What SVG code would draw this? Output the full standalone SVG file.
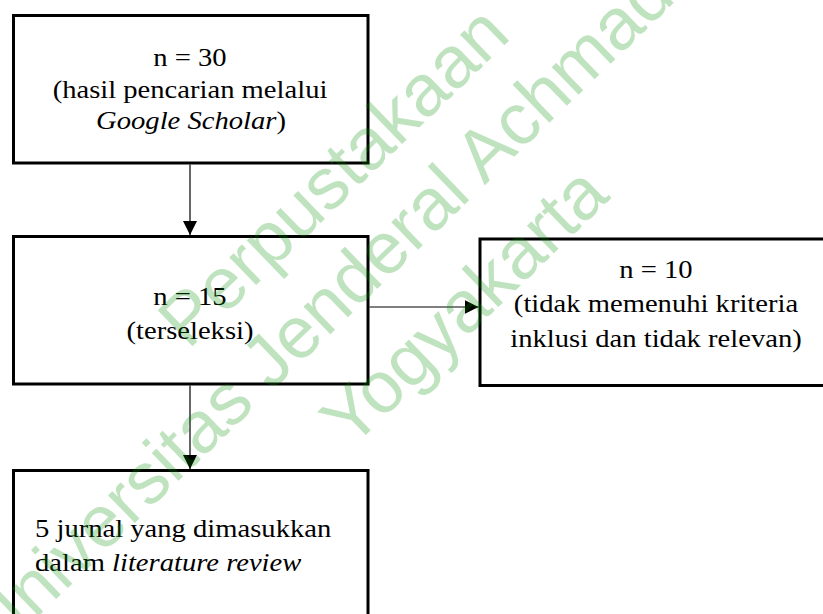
<svg xmlns="http://www.w3.org/2000/svg" width="823" height="614" viewBox="0 0 823 614">
  <style>
    .box { fill: #ffffff; stroke: #000000; stroke-width: 3; }
    .lbl { font-family: "Liberation Serif", "Times New Roman", serif; font-size: 26px; fill: #000000; }
    .c { text-anchor: middle; }
    .it { font-style: italic; }
    .conn { stroke: #000000; stroke-width: 1.2; fill: none; marker-end: url(#arrow); }
    .wm { font-family: "Liberation Sans", Arial, sans-serif; font-size: 73px; fill: #009000; fill-opacity: 0.25; }
  </style>
  <defs>
    <marker id="arrow" markerUnits="userSpaceOnUse" markerWidth="14" markerHeight="14" refX="14" refY="7" orient="auto">
      <path d="M0,0 L14,7 L0,14 Z" fill="#000000"/>
    </marker>
  </defs>
  <rect width="823" height="614" fill="#ffffff"/>

  <g id="node-search">
    <rect class="box" x="13.5" y="15.5" width="354.5" height="147.5"/>
    <text class="lbl c" transform="translate(190,0) scale(1.1,1)" x="0" y="66.5">n = 30</text>
    <text class="lbl c" transform="translate(190,0) scale(1.1,1)" x="0" y="98.5">(hasil pencarian melalui</text>
    <text class="lbl c" transform="translate(191,0) scale(1.1,1)" x="0" y="129.5"><tspan class="it">Google Scholar</tspan>)</text>
  </g>

  <g id="node-selected">
    <rect class="box" x="13.5" y="236.5" width="354.5" height="147.5"/>
    <text class="lbl c" transform="translate(190,0) scale(1.1,1)" x="0" y="305">n = 15</text>
    <text class="lbl c" transform="translate(190,0) scale(1.1,1)" x="0" y="339">(terseleksi)</text>
  </g>

  <g id="node-excluded">
    <rect class="box" x="480" y="239" width="353" height="146.5"/>
    <text class="lbl c" transform="translate(656,0) scale(1.1,1)" x="0" y="278">n = 10</text>
    <text class="lbl c" transform="translate(656,0) scale(1.1,1)" x="0" y="312">(tidak memenuhi kriteria</text>
    <text class="lbl c" transform="translate(656,0) scale(1.1,1)" x="0" y="347">inklusi dan tidak relevan)</text>
  </g>

  <g id="node-included">
    <rect class="box" x="13.5" y="470.5" width="354.5" height="160"/>
    <text class="lbl" transform="translate(35,0) scale(1.1,1)" x="0" y="537">5  jurnal yang dimasukkan</text>
    <text class="lbl" transform="translate(35,0) scale(1.1,1)" x="0" y="571">dalam <tspan class="it">literature review</tspan></text>
  </g>

  <g id="connectors">
    <line class="conn" x1="190" y1="164.5" x2="190" y2="235"/>
    <line class="conn" x1="369.5" y1="307" x2="478.5" y2="307"/>
    <line class="conn" x1="190" y1="385.5" x2="190" y2="469"/>
  </g>

  <g id="watermark" transform="rotate(-44)">
    <text class="wm" x="-108" y="383">Perpustakaan</text>
    <text class="wm" x="-458" y="470">Universitas Jenderal Achmad</text>
    <text class="wm" x="-60" y="567">Yogyakarta</text>
  </g>
</svg>
